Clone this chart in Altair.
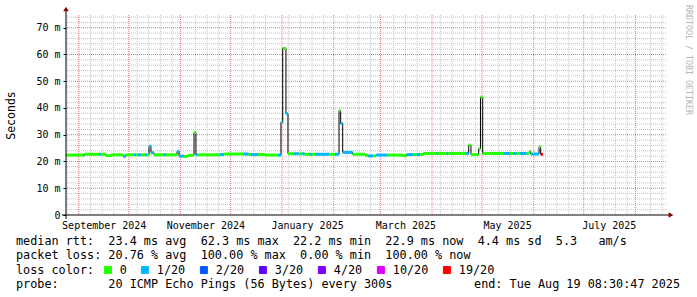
import altair as alt
import pandas as pd

# ---------------- data ----------------
seg_start = [
    "2024-08-24T08:30", "2024-09-03T13:00", "2024-09-04T11:00", "2024-09-13T04:00", "2024-09-14T08:00",
    "2024-09-17T08:00", "2024-09-20T08:00", "2024-09-27T13:00", "2024-09-29T08:00", "2024-10-04T04:00",
    "2024-10-05T08:00", "2024-10-06T13:00", "2024-10-08T08:00", "2024-10-10T18:00", "2024-10-11T23:00",
    "2024-10-13T04:00", "2024-10-14T08:00", "2024-10-16T04:00", "2024-10-22T04:00", "2024-10-23T08:00",
    "2024-10-29T23:00", "2024-10-31T04:00", "2024-11-03T04:00", "2024-11-05T13:00", "2024-11-09T04:00",
    "2024-11-10T08:00", "2024-11-11T06:00", "2024-11-24T18:00", "2024-11-27T04:00", "2024-12-08T23:00",
    "2024-12-11T23:00", "2024-12-13T08:00", "2024-12-17T13:00", "2024-12-21T18:00", "2024-12-29T13:00",
    "2024-12-31T08:00", "2025-01-01T09:00", "2025-01-03T08:00", "2025-01-04T13:00", "2025-01-07T23:00",
    "2025-01-10T23:00", "2025-01-12T23:00", "2025-01-14T11:00", "2025-01-17T04:00", "2025-01-18T23:00",
    "2025-01-20T18:00", "2025-01-29T04:00", "2025-02-01T18:00", "2025-02-04T04:00", "2025-02-05T04:00",
    "2025-02-06T09:00", "2025-02-12T09:00", "2025-02-19T22:00", "2025-02-21T13:00", "2025-02-24T13:00",
    "2025-02-26T08:00", "2025-03-05T03:00", "2025-03-14T13:00", "2025-03-16T18:00", "2025-03-20T18:00",
    "2025-03-22T18:00", "2025-03-24T18:00", "2025-03-26T18:00", "2025-04-03T18:00", "2025-04-04T13:00",
    "2025-04-09T18:00", "2025-04-10T18:00", "2025-04-21T08:00", "2025-04-22T23:00", "2025-04-24T08:00",
    "2025-04-28T23:00", "2025-04-30T01:00", "2025-05-01T09:00", "2025-05-13T18:00", "2025-05-17T18:00",
    "2025-05-19T18:00", "2025-05-21T18:00", "2025-05-23T18:00", "2025-05-27T18:00", "2025-05-29T04:00",
    "2025-05-30T04:00", "2025-06-04T04:00", "2025-06-05T04:00",
]
series_end = "2025-06-06T13:00"

seg_ms = [
    22.4, 22.4, 22.7, 22.7, 22.7,
    22.2, 22.5, 22.0, 22.5, 22.5,
    22.5, 22.5, 22.5, 22.5, 22.5,
    25.7, 23.3, 22.5, 22.5, 22.5,
    23.8, 22.0, 21.9, 22.3, 30.8,
    22.5, 22.5, 22.6, 22.8, 22.8,
    22.6, 22.6, 22.6, 22.4, 22.4,
    34.6, 62.3, 37.9, 22.9, 22.9,
    22.9, 22.9, 22.7, 22.7, 22.7,
    22.7, 22.7, 22.7, 39.0, 34.2,
    23.4, 22.7, 22.3, 22.1, 22.1,
    22.4, 22.4, 22.2, 22.6, 22.6,
    22.6, 22.6, 23.0, 23.0, 23.0,
    23.0, 23.0, 23.0, 26.1, 22.6,
    24.7, 44.0, 23.0, 23.0, 23.0,
    23.0, 23.0, 23.0, 23.0, 23.7,
    22.8, 25.5, 22.7,
]

seg_loss = [
    "0", "1/20", "0", "1/20", "0",
    "0", "0", "1/20", "0", "1/20",
    "0", "1/20", "0", "1/20", "0",
    "1/20", "1/20", "0", "1/20", "0",
    "1/20", "1/20", "0", "0", "0",
    "1/20", "0", "1/20", "0", "1/20",
    "0", "1/20", "0", "0", "1/20",
    "1/20", "0", "1/20", "0", "1/20",
    "0", "1/20", "0", "1/20", "0",
    "1/20", "0", "1/20", "0", "1/20",
    "1/20", "0", "0", "1/20", "0",
    "1/20", "0", "0", "1/20", "0",
    "1/20", "0", "0", "1/20", "0",
    "1/20", "0", "1/20", "0", "0",
    "0", "0", "0", "1/20", "0",
    "1/20", "0", "1/20", "0", "0",
    "1/20", "0", "19/20",
]

loss_labels = ["0", "1/20", "2/20", "3/20", "4/20", "10/20", "19/20"]
loss_colors = ["#26ff00", "#00b8ff", "#0059ff", "#5e00ff", "#7e00ff", "#dd00ff", "#ff0000"]

x_start = "2024-08-24T08:30:47"
x_end = "2025-08-19T08:30:47"
y_max = 74.76

y_major = [10, 20, 30, 40, 50, 60, 70]
y_labels = [0, 10, 20, 30, 40, 50, 60, 70]
y_minor = [v for v in range(2, 75, 2) if v % 10 != 0]
month_label_dates = ["2024-09-16", "2024-11-16", "2025-01-16", "2025-03-16", "2025-05-16", "2025-07-16"]

row_rtt = "median rtt:  23.4 ms avg  62.3 ms max  22.2 ms min  22.9 ms now  4.4 ms sd  5.3   am/s"
row_loss = "packet loss: 20.76 % avg  100.00 % max  0.00 % min  100.00 % now"
row_probe = "probe:       20 ICMP Echo Pings (56 Bytes) every 300s"
row_end = "end: Tue Aug 19 08:30:47 2025"
legend_title = "loss color:"
y_title = "Seconds"
watermark = "RRDTOOL / TOBI OETIKER"

# ---------------- tables ----------------
seg = pd.DataFrame({"start": seg_start, "ms": seg_ms, "loss": seg_loss})
seg["end"] = seg["start"].shift(-1).fillna(series_end)
line_df = pd.concat(
    [seg[["start", "ms"]], pd.DataFrame({"start": [series_end], "ms": [seg_ms[-1]]})],
    ignore_index=True,
)

month_starts = pd.date_range("2024-09-01", "2025-08-01", freq="MS")
weeks = pd.date_range("2024-08-25", "2025-08-17", freq="7D")
weeks = [w for w in weeks if min(abs((w - m).days) for m in month_starts) > 3]
xmajor_df = pd.DataFrame({"start": [d.strftime("%Y-%m-%d") for d in month_starts]})
xminor_df = pd.DataFrame({"start": [d.strftime("%Y-%m-%d") for d in weeks]})
ymajor_df = pd.DataFrame({"ms": y_major})
yminor_df = pd.DataFrame({"ms": y_minor})


def dt(s):
    t = pd.Timestamp(s)
    return alt.DateTime(year=t.year, month=t.month, date=t.day,
                        hours=t.hour, minutes=t.minute, seconds=t.second)


x_scale = alt.Scale(domain=[dt(x_start), dt(x_end)])
y_scale = alt.Scale(domain=[0, y_max], nice=False, zero=True)
loss_scale = alt.Scale(domain=loss_labels, range=loss_colors)

MONO = "DejaVu Sans Mono"
one = pd.DataFrame({"a": [0]})


def nb(s):
    return s.replace(" ", "\u00a0")


x_axis = alt.Axis(
    values=[dt(d) for d in month_label_dates], format="%B %Y", grid=False, ticks=False, domain=False,
    labelFont=MONO, labelFontSize=10, labelColor="black", labelBaseline="middle", labelPadding=10,
    labelAlign="center", labelFlush=False, labelOverlap=False, title=None,
)
y_axis = alt.Axis(
    values=y_labels, labelExpr="datum.value == 0 ? '0' : datum.value + ' m'", grid=False, domain=False,
    ticks=True, tickSize=3, tickColor="black", labelFont=MONO, labelFontSize=10, labelColor="black",
    labelPadding=3, labelFlush=False, title=y_title, titleFont=MONO, titleFontSize=11.5,
    titleFontWeight="normal", titleColor="black", titleAngle=-90, titleX=-55, titleY=100,
    titleAlign="center", titleBaseline="middle",
)

X = lambda f: alt.X(f, type="temporal", scale=x_scale, axis=x_axis)
Y = lambda f: alt.Y(f, type="quantitative", scale=y_scale, axis=y_axis)

# ---------------- layers ----------------
MINOR = "#c4c4c4"
MAJOR = "#e87878"
grid_minor_x = alt.Chart(xminor_df).mark_rule(color=MINOR, strokeDash=[1, 1], strokeWidth=1).encode(x=X("start"))
grid_minor_y = alt.Chart(yminor_df).mark_rule(color=MINOR, strokeDash=[1, 1], strokeWidth=1).encode(y=Y("ms"))
grid_major_x = alt.Chart(xmajor_df).mark_rule(color=MAJOR, strokeDash=[1, 1], strokeWidth=1).encode(x=X("start"))
grid_major_y = alt.Chart(ymajor_df).mark_rule(color=MAJOR, strokeDash=[1, 1], strokeWidth=1).encode(y=Y("ms"))

black_line = alt.Chart(line_df).mark_line(interpolate="step-after", color="#000000", strokeWidth=1).encode(
    x=X("start"), y=Y("ms"))

colored = alt.Chart(seg).mark_rule(strokeWidth=3).encode(
    x=X("start"),
    x2="end:T",
    y=Y("ms"),
    stroke=alt.Stroke("loss:N", scale=loss_scale, legend=None),
    fill=alt.Fill("loss:N", scale=loss_scale, legend=alt.Legend(
        orient="none", legendX=-50, legendY=249, direction="horizontal",
        title=legend_title, titleOrient="left", titleFont=MONO, titleFontSize=11.8,
        titleFontWeight="normal", titleColor="black", titlePadding=7, titleBaseline="middle",
        labelFont=MONO, labelFontSize=11.8, labelColor="black", labelOffset=6, labelLimit=0,
        columnPadding=12, symbolType="square", symbolSize=49, symbolStrokeColor="black",
        symbolStrokeWidth=1, symbolOpacity=1, padding=0, offset=0,
    )),
)

x_line = alt.Chart(one).mark_rule(color="black", strokeWidth=1).encode(
    x=alt.value(-4), x2=alt.value(604), y=alt.value(200))
y_line = alt.Chart(one).mark_rule(color="black", strokeWidth=1).encode(
    x=alt.value(0), y=alt.value(-5), y2=alt.value(204))
arrow_up = alt.Chart(one).mark_point(shape="triangle-up", filled=True, color="#8b0000", size=30, opacity=1).encode(
    x=alt.value(0), y=alt.value(-6))
arrow_right = alt.Chart(one).mark_point(shape="triangle-right", filled=True, color="#8b0000", size=30, opacity=1).encode(
    x=alt.value(605), y=alt.value(200))


def text_row(s, x, y, align="left", size=11.8, color="black", angle=0):
    return alt.Chart(pd.DataFrame({"t": [nb(s)]})).mark_text(
        font=MONO, fontSize=size, color=color, align=align, baseline="middle", angle=angle,
    ).encode(text="t:N", x=alt.value(x), y=alt.value(y))


texts = [
    text_row(row_rtt, -50, 226),
    text_row(row_loss, -50, 240),
    text_row(row_probe, -50, 269),
    text_row(row_end, 614, 269, align="right"),
    text_row(watermark, 622, -10, size=8.3, color="#b4b4b4", angle=90),
]

chart = alt.layer(
    grid_minor_x, grid_minor_y, grid_major_x, grid_major_y,
    black_line, colored, x_line, y_line, arrow_up, arrow_right, *texts,
).resolve_scale(fill="independent", stroke="independent").properties(
    width=600, height=200,
    autosize=alt.AutoSizeParams(type="none"),
    padding={"left": 66, "top": 15, "right": 31, "bottom": 82},
    background="white",
).configure_view(stroke=None)

chart.save("out.html", embed_options={"renderer": "svg", "actions": False})
